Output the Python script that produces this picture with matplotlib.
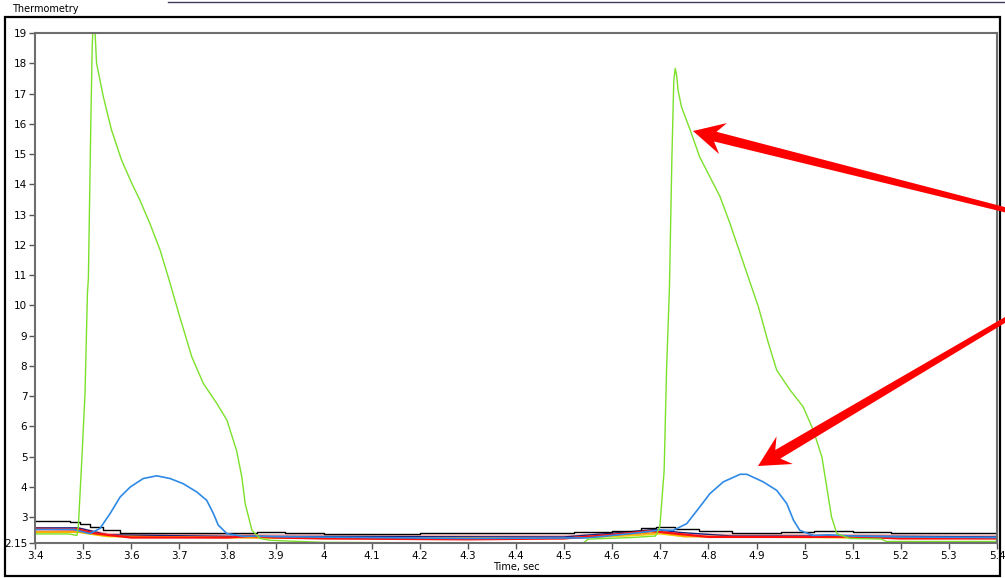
import numpy as np
import matplotlib.pyplot as plt
from matplotlib.patches import Rectangle, Polygon
from matplotlib.lines import Line2D

# green trace (both pulses)
green_t = [3.40, 3.47, 3.487, 3.49, 3.497, 3.504, 3.509, 3.511, 3.516, 3.519, 3.521, 3.524, 3.528,
           3.542, 3.559, 3.580, 3.601, 3.618, 3.639, 3.660, 3.677, 3.701, 3.726, 3.750, 3.778,
           3.799, 3.819, 3.830, 3.837, 3.851, 3.868, 3.889, 3.95, 4.00, 4.30, 4.54, 4.55, 4.64,
           4.69, 4.699, 4.708, 4.713, 4.719, 4.724, 4.728, 4.731, 4.734, 4.737, 4.744, 4.762,
           4.782, 4.803, 4.824, 4.845, 4.866, 4.890, 4.904, 4.925, 4.942, 4.970, 4.997, 5.018,
           5.036, 5.046, 5.056, 5.067, 5.094, 5.16, 5.17, 5.30, 5.40]
green_v = [2.45, 2.45, 2.4, 2.68, 4.8, 7.1, 10.4, 10.9, 16.0, 18.6, 19.3, 19.3, 18.0,
           16.9, 15.8, 14.8, 14.04, 13.48, 12.7, 11.83, 10.94, 9.62, 8.30, 7.42, 6.76,
           6.21, 5.21, 4.33, 3.45, 2.57, 2.30, 2.24, 2.2, 2.17, 2.15, 2.15, 2.28, 2.33,
           2.38, 2.68, 4.55, 7.86, 10.6, 14.8, 17.4, 17.83, 17.6, 17.1, 16.56, 15.8,
           14.9, 14.25, 13.6, 12.7, 11.72, 10.6, 9.95, 8.74, 7.86, 7.2, 6.65, 5.88,
           4.99, 4.0, 3.01, 2.46, 2.3, 2.28, 2.2, 2.2, 2.2]

# blue trace
blue_t = [3.40, 3.48, 3.514, 3.535, 3.556, 3.577, 3.598, 3.625, 3.653, 3.681, 3.708, 3.736,
          3.757, 3.771, 3.781, 3.799, 3.833, 3.86, 3.90, 4.30, 4.55, 4.65, 4.70, 4.727, 4.755,
          4.782, 4.803, 4.831, 4.866, 4.880, 4.914, 4.942, 4.963, 4.977, 4.990, 5.018, 5.05,
          5.10, 5.20, 5.40]
blue_v = [2.6, 2.6, 2.46, 2.63, 3.12, 3.67, 4.0, 4.28, 4.37, 4.28, 4.11, 3.84,
          3.56, 3.12, 2.74, 2.46, 2.37, 2.38, 2.36, 2.3, 2.32, 2.48, 2.58, 2.57, 2.79,
          3.34, 3.78, 4.17, 4.42, 4.42, 4.17, 3.89, 3.45, 2.9, 2.57, 2.40, 2.42, 2.38,
          2.35, 2.33]

# black trace
black_t = [3.40, 3.473, 3.494, 3.514, 3.542, 3.577, 3.62, 3.70, 3.78, 3.861, 3.92, 4.00, 4.20,
           4.45, 4.52, 4.60, 4.66, 4.692, 4.73, 4.78, 4.85, 4.95, 5.02, 5.10, 5.18, 5.28, 5.40]
black_v = [2.88, 2.85, 2.79, 2.68, 2.57, 2.48, 2.48, 2.49, 2.48, 2.51, 2.47, 2.45, 2.47,
           2.47, 2.52, 2.56, 2.63, 2.68, 2.62, 2.54, 2.49, 2.52, 2.55, 2.52, 2.48, 2.47, 2.5]

# red trace
red_t = [3.40, 3.49, 3.52, 3.56, 3.60, 3.80, 3.85, 3.90, 4.00, 4.30, 4.50, 4.60, 4.68, 4.72,
         4.80, 5.00, 5.10, 5.20, 5.40]
red_v = [2.62, 2.6, 2.48, 2.4, 2.33, 2.33, 2.38, 2.33, 2.3, 2.27, 2.3, 2.42, 2.55, 2.48,
         2.35, 2.35, 2.36, 2.3, 2.3]

# minor channels near the baseline
orange_t = [3.40, 3.49, 3.55, 3.80, 4.00, 4.50, 4.65, 4.70, 4.75, 4.90, 5.10, 5.20, 5.40]
orange_v = [2.52, 2.52, 2.38, 2.33, 2.3, 2.3, 2.45, 2.5, 2.38, 2.35, 2.33, 2.3, 2.3]
yellow_t = [3.40, 3.49, 3.55, 3.80, 4.50, 4.65, 4.70, 4.75, 5.00, 5.40]
yellow_v = [2.5, 2.5, 2.36, 2.33, 2.3, 2.4, 2.45, 2.36, 2.33, 2.3]
navy_t = [3.40, 3.49, 3.55, 3.80, 4.50, 4.62, 4.69, 4.74, 4.85, 5.10, 5.40]
navy_v = [2.65, 2.65, 2.42, 2.37, 2.35, 2.5, 2.6, 2.5, 2.38, 2.38, 2.35]
pink_t = [3.40, 3.49, 3.55, 3.80, 4.50, 4.65, 4.70, 4.75, 5.10, 5.40]
pink_v = [2.6, 2.6, 2.42, 2.38, 2.35, 2.45, 2.52, 2.4, 2.38, 2.35]

yticks = [2.15] + list(range(3, 20))
xticks = [3.4, 3.5, 3.6, 3.7, 3.8, 3.9, 4.0, 4.1, 4.2, 4.3, 4.4, 4.5, 4.6, 4.7, 4.8, 4.9,
          5.0, 5.1, 5.2, 5.3, 5.4]

W, H = 1005, 578
plt.rcParams['font.family'] = ['DejaVu Sans']

fig = plt.figure(figsize=(W / 100, H / 100), dpi=100)
ax = fig.add_axes([35 / W, 35 / H, 962 / W, 510 / H])

ax.plot(pink_t, pink_v, color='#f4a0a0', lw=3, alpha=0.8)
ax.plot(navy_t, navy_v, color='#1a237e', lw=1)
ax.plot(yellow_t, yellow_v, color='#f0d000', lw=1)
ax.plot(orange_t, orange_v, color='#ff9900', lw=1)
ax.plot(black_t, black_v, color='black', lw=1, drawstyle='steps-post')
ax.plot(red_t, red_v, color='#ff1010', lw=1.6)
ax.plot(blue_t, blue_v, color='#2e8ae6', lw=1.2)
ax.plot(green_t, green_v, color='#7be02a', lw=1.0)

ax.set_xlim(3.4, 5.4)
ax.set_ylim(2.15, 19)
ax.set_xticks(xticks)
ax.set_xticklabels(['%g' % t for t in xticks])
ax.set_yticks(yticks)
ax.set_yticklabels(['%g' % t for t in yticks])
ax.tick_params(labelsize=7.5, length=4, width=1, color='#555555', pad=1.5)
for s in ax.spines.values():
    s.set_color('#6e6e6e')
    s.set_linewidth(1.5)
ax.set_xlabel('Time, sec', fontsize=7, labelpad=1)

# outer frame, title, top rule
fig.patches.append(Rectangle((5 / W, 2 / H), 995 / W, 559 / H, transform=fig.transFigure,
                             fill=False, edgecolor='black', lw=1.6))
fig.text(12 / W, 1 - 9 / H, 'Thermometry', fontsize=7, va='center', ha='left')
fig.lines.append(Line2D([168 / W, 1], [1 - 1.5 / H] * 2, transform=fig.transFigure,
                        color='#3a3a5a', lw=1))


# red callout arrows, drawn in pixel space (y down), tapered shaft + dart head
def dart(tail, tip, tail_w=2.5, neck_w=5, head_len=31, half_w=16, notch=23):
    tail = np.array(tail, float)
    tip = np.array(tip, float)
    u = (tail - tip) / np.linalg.norm(tail - tip)
    n = np.array([-u[1], u[0]])
    pts = [tip,
           tip + u * head_len + n * half_w,
           tip + u * notch + n * neck_w,
           tail + n * tail_w,
           tail - n * tail_w,
           tip + u * notch - n * neck_w,
           tip + u * head_len - n * half_w]
    pts = [(p[0] / W, 1 - p[1] / H) for p in pts]
    fig.patches.append(Polygon(pts, closed=True, transform=fig.transFigure,
                               facecolor='#ff0000', edgecolor='none'))


dart((1010, 211), (693, 131))
dart((1010, 317), (758, 466))

fig.savefig('out.png', dpi=100, facecolor='white')
